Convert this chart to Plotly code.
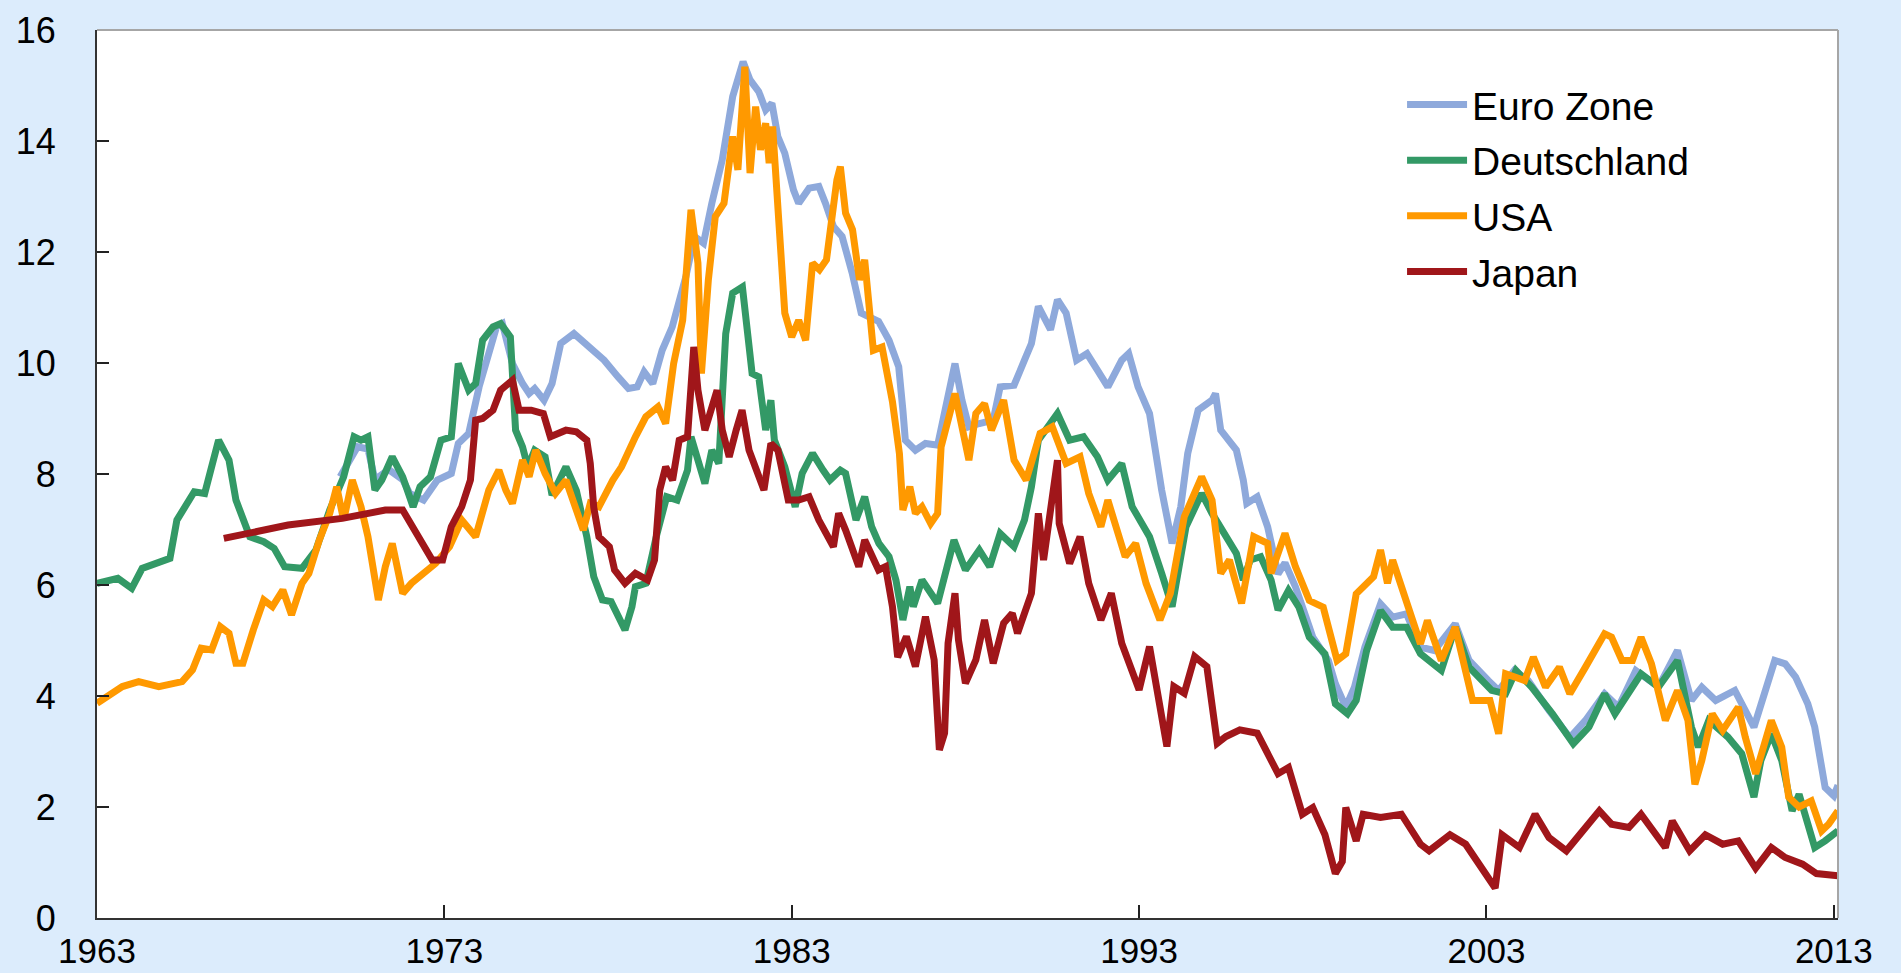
import plotly.graph_objects as go

# ---------------- data (decimal years, yields in %) ----------------
ez_year = [1970.0, 1970.5, 1970.8, 1971.0, 1971.4, 1971.8, 1972.0, 1972.4, 1972.8, 1973.2, 1973.4, 1973.7,
           1974.0, 1974.2, 1974.5, 1974.67, 1974.96, 1975.25, 1975.44, 1975.6, 1975.87, 1976.1, 1976.35,
           1976.73, 1977.16, 1977.6, 1978.0, 1978.3, 1978.55, 1978.75, 1979.0, 1979.27, 1979.56, 1979.8,
           1979.95, 1980.2, 1980.46, 1980.7, 1981.0, 1981.3, 1981.6, 1981.8, 1982.05, 1982.25, 1982.43,
           1982.6, 1982.8, 1983.05, 1983.2, 1983.5, 1983.78, 1983.97, 1984.2, 1984.45, 1984.74, 1985.0,
           1985.2, 1985.5, 1985.8, 1986.08, 1986.2, 1986.27, 1986.56, 1986.85, 1987.2, 1987.4, 1987.7,
           1987.9, 1988.1, 1988.4, 1988.8, 1989.0, 1989.4, 1989.7, 1989.9, 1990.1, 1990.45, 1990.65,
           1990.9, 1991.2, 1991.5, 1991.8, 1992.1, 1992.5, 1992.7, 1992.97, 1993.3, 1993.65, 1993.95,
           1994.2, 1994.4, 1994.7, 1995.1, 1995.2, 1995.35, 1995.8, 1996.0, 1996.1, 1996.4, 1996.7,
           1997.0, 1997.2, 1997.5, 1997.8, 1998.0, 1998.45, 1998.65, 1998.95, 1999.2, 1999.5, 1999.95,
           2000.3, 2000.7, 2001.1, 2001.5, 2002.1, 2002.5, 2003.05, 2003.35, 2003.8, 2004.2, 2004.8,
           2005.4, 2005.85, 2006.4, 2006.8, 2007.3, 2007.95, 2008.5, 2008.9, 2009.2, 2009.6, 2010.15,
           2010.7, 2011.0, 2011.3, 2011.6, 2011.9, 2012.25, 2012.45, 2012.75, 2013.0, 2013.12]
ez_val = [7.95, 8.49, 8.45, 7.9, 8.08, 7.9, 7.65, 7.53, 7.89, 8.01, 8.55, 8.73,
          9.57, 10.05, 10.65, 10.71, 9.99, 9.63, 9.45, 9.54, 9.33, 9.63, 10.35,
          10.53, 10.29, 10.05, 9.75, 9.54, 9.57, 9.84, 9.63, 10.23, 10.65, 11.19,
          11.55, 12.28, 12.16, 12.88, 13.66, 14.8, 15.43, 15.1, 14.89, 14.56, 14.68,
          14.08, 13.78, 13.12, 12.88, 13.15, 13.18, 12.88, 12.46, 12.28, 11.62, 10.9,
          10.84, 10.75, 10.41, 9.93, 9.15, 8.61, 8.43, 8.55, 8.52, 9.15, 9.99,
          9.33, 8.85, 8.91, 8.97, 9.57, 9.6, 10.05, 10.35, 11.02, 10.6, 11.14,
          10.9, 10.05, 10.17, 9.87, 9.57, 10.05, 10.17, 9.57, 9.09, 7.71, 6.75,
          7.41, 8.37, 9.15, 9.33, 9.45, 8.79, 8.43, 7.89, 7.47, 7.59, 7.05,
          6.2, 6.4, 5.97, 5.43, 5.06, 4.64, 4.22, 3.8, 4.16, 4.88, 5.66,
          5.42, 5.48, 4.88, 4.82, 5.3, 4.64, 4.28, 4.1, 4.46, 4.28, 3.74,
          3.25, 3.56, 4.04, 3.8, 4.46, 4.16, 4.82, 3.92, 4.16, 3.92, 4.1,
          3.44, 4.04, 4.64, 4.58, 4.34, 3.86, 3.44, 2.35, 2.2, 2.39]

de_year = [1963.0, 1963.6, 1964.0, 1964.3, 1965.1, 1965.3, 1965.8, 1966.1, 1966.5, 1966.8, 1967.0, 1967.2,
           1967.4, 1967.8, 1968.1, 1968.4, 1968.9, 1969.3, 1969.7, 1970.1, 1970.4, 1970.6, 1970.8, 1971.0,
           1971.2, 1971.5, 1971.8, 1972.1, 1972.3, 1972.6, 1972.9, 1973.2, 1973.4, 1973.7, 1973.9, 1974.1,
           1974.4, 1974.62, 1974.9, 1975.05, 1975.25, 1975.4, 1975.6, 1975.9, 1976.1, 1976.5, 1976.8,
           1977.1, 1977.3, 1977.55, 1977.8, 1978.2, 1978.4, 1978.5, 1978.8, 1979.1, 1979.4, 1979.7,
           1980.0, 1980.1, 1980.5, 1980.7, 1980.9, 1981.1, 1981.3, 1981.58, 1981.7, 1981.86, 1982.05,
           1982.25, 1982.4, 1982.5, 1982.8, 1983.1, 1983.3, 1983.6, 1983.9, 1984.1, 1984.4, 1984.55,
           1984.85, 1985.1, 1985.3, 1985.51, 1985.8, 1986.0, 1986.2, 1986.4, 1986.5, 1986.75, 1987.2,
           1987.67, 1988.0, 1988.4, 1988.7, 1989.0, 1989.4, 1989.7, 1989.9, 1990.1, 1990.65, 1991.0,
           1991.4, 1991.8, 1992.1, 1992.5, 1992.8, 1993.3, 1993.65, 1993.85, 1993.95, 1994.35, 1994.8,
           1995.1, 1995.5, 1995.8, 1996.0, 1996.2, 1996.5, 1996.8, 1997.0, 1997.3, 1997.6, 1997.9,
           1998.35, 1998.65, 1999.0, 1999.25, 1999.55, 1999.95, 2000.3, 2000.7, 2001.1, 2001.7, 2002.1,
           2002.5, 2003.15, 2003.55, 2003.85, 2004.3, 2004.9, 2005.5, 2005.95, 2006.4, 2006.7, 2007.1,
           2007.45, 2007.95, 2008.5, 2008.9, 2009.1, 2009.4, 2009.95, 2010.35, 2010.7, 2010.9, 2011.2,
           2011.5, 2011.8, 2012.0, 2012.45, 2012.75, 2013.12]
de_val = [6.03, 6.12, 5.94, 6.3, 6.48, 7.17, 7.68, 7.65, 8.61, 8.25, 7.53, 7.23,
          6.87, 6.78, 6.66, 6.33, 6.3, 6.63, 7.35, 7.95, 8.67, 8.61, 8.67, 7.71,
          7.89, 8.31, 7.95, 7.41, 7.77, 7.95, 8.61, 8.67, 9.99, 9.51, 9.63, 10.41,
          10.65, 10.71, 10.47, 8.79, 8.49, 8.13, 8.43, 8.31, 7.62, 8.13, 7.7,
          6.87, 6.15, 5.73, 5.7, 5.19, 5.61, 5.97, 6.03, 6.87, 7.59, 7.53,
          8.07, 8.67, 7.83, 8.43, 8.19, 10.53, 11.26, 11.37, 10.59, 9.81, 9.75,
          8.79, 9.33, 8.61, 8.13, 7.41, 8.01, 8.37, 8.07, 7.89, 8.07, 8.01,
          7.17, 7.59, 7.05, 6.75, 6.51, 6.09, 5.37, 5.97, 5.61, 6.09, 5.67,
          6.81, 6.27, 6.63, 6.33, 6.93, 6.69, 7.17, 7.77, 8.61, 9.09, 8.61,
          8.67, 8.31, 7.89, 8.19, 7.41, 6.87, 6.21, 5.85, 5.61, 7.05, 7.65,
          7.29, 6.87, 6.57, 6.09, 6.45, 6.51, 6.09, 5.55, 5.9, 5.6, 5.06,
          4.76, 3.86, 3.68, 3.92, 4.82, 5.54, 5.24, 5.24, 4.76, 4.46, 5.24,
          4.52, 4.1, 4.04, 4.46, 4.16, 3.68, 3.14, 3.44, 4.04, 3.68, 4.04,
          4.4, 4.16, 4.64, 3.44, 3.08, 3.56, 3.26, 2.96, 2.18, 2.84, 3.32,
          2.84, 1.93, 2.23, 1.27, 1.39, 1.57]

us_year = [1963.0, 1963.35, 1963.73, 1964.2, 1964.78, 1965.45, 1965.75, 1966.0, 1966.3, 1966.55, 1966.8, 1967.0,
           1967.2, 1967.5, 1967.8, 1968.05, 1968.35, 1968.6, 1968.9, 1969.1, 1969.4, 1969.7, 1969.9, 1970.1,
           1970.35, 1970.6, 1970.8, 1971.1, 1971.3, 1971.5, 1971.8, 1972.05, 1972.4, 1972.75, 1973.15, 1973.5,
           1973.9, 1974.28, 1974.57, 1974.77, 1974.96, 1975.25, 1975.44, 1975.63, 1975.9, 1976.2, 1976.5,
           1976.8, 1977.0, 1977.2, 1977.45, 1977.85, 1978.1, 1978.5, 1978.8, 1979.15, 1979.37, 1979.6,
           1979.86, 1980.1, 1980.3, 1980.4, 1980.6, 1980.8, 1981.05, 1981.3, 1981.45, 1981.65, 1981.8,
           1981.96, 1982.1, 1982.25, 1982.35, 1982.45, 1982.6, 1982.8, 1983.0, 1983.2, 1983.4, 1983.6,
           1983.8, 1984.0, 1984.3, 1984.4, 1984.55, 1984.75, 1984.95, 1985.1, 1985.35, 1985.6, 1985.9,
           1986.1, 1986.2, 1986.4, 1986.56, 1986.75, 1987.0, 1987.2, 1987.3, 1987.7, 1988.1, 1988.3,
           1988.55, 1988.75, 1989.1, 1989.4, 1989.75, 1990.15, 1990.5, 1990.9, 1991.3, 1991.55, 1991.9,
           1992.1, 1992.6, 1992.9, 1993.2, 1993.6, 1993.9, 1994.3, 1994.8, 1995.1, 1995.35, 1995.6,
           1995.95, 1996.3, 1996.7, 1996.8, 1997.2, 1997.5, 1997.9, 1998.3, 1998.7, 1998.95, 1999.25,
           1999.75, 1999.95, 2000.15, 2000.3, 2000.7, 2001.1, 2001.3, 2001.7, 2002.1, 2002.6, 2003.1,
           2003.35, 2003.55, 2004.1, 2004.35, 2004.7, 2005.1, 2005.4, 2005.85, 2006.4, 2006.6, 2006.9,
           2007.2, 2007.45, 2007.75, 2008.15, 2008.5, 2008.8, 2009.0, 2009.2, 2009.5, 2009.8, 2010.25,
           2010.45, 2010.75, 2011.2, 2011.5, 2011.7, 2012.0, 2012.35, 2012.65, 2012.85, 2013.12]
us_val = [3.87, 4.02, 4.17, 4.26, 4.17, 4.26, 4.47, 4.86, 4.83, 5.25, 5.13, 4.59,
          4.59, 5.19, 5.73, 5.61, 5.91, 5.46, 6.03, 6.21, 6.81, 7.29, 7.77, 7.17,
          7.89, 7.41, 6.87, 5.73, 6.33, 6.75, 5.85, 6.03, 6.21, 6.39, 6.69, 7.17,
          6.87, 7.71, 8.07, 7.71, 7.47, 8.25, 7.95, 8.43, 8.01, 7.65, 7.89,
          7.35, 6.99, 7.47, 7.41, 7.89, 8.13, 8.67, 9.03, 9.21, 8.91, 9.99,
          10.77, 12.76, 11.8, 9.81, 11.5, 12.64, 12.88, 14.08, 13.48, 15.34, 13.42,
          14.62, 13.84, 14.32, 13.6, 14.26, 13.0, 10.9, 10.47, 10.77, 10.41, 11.8,
          11.68, 11.86, 13.3, 13.54, 12.7, 12.4, 11.5, 11.86, 10.23, 10.29, 9.3,
          8.37, 7.35, 7.77, 7.29, 7.41, 7.11, 7.29, 8.49, 9.45, 8.25, 9.09,
          9.27, 8.79, 9.33, 8.25, 7.89, 8.73, 8.85, 8.19, 8.31, 7.65, 7.05,
          7.53, 6.51, 6.75, 6.03, 5.37, 5.85, 7.23, 7.95, 7.53, 6.21, 6.45,
          5.67, 6.87, 6.75, 6.21, 6.93, 6.33, 5.72, 5.6, 4.64, 4.76, 5.84,
          6.15, 6.63, 6.03, 6.45, 5.72, 4.94, 5.36, 4.64, 5.24, 3.92, 3.92,
          3.32, 4.4, 4.28, 4.7, 4.16, 4.52, 4.04, 4.52, 5.12, 5.06, 4.64,
          4.64, 5.06, 4.58, 3.56, 4.1, 3.56, 2.41, 2.84, 3.68, 3.38, 3.8,
          3.26, 2.6, 3.56, 3.08, 2.18, 2.0, 2.11, 1.57, 1.69, 1.93]

jp_year = [1966.65, 1967.3, 1968.5, 1970.06, 1971.3, 1971.8, 1972.4, 1972.65, 1972.95, 1973.2, 1973.5, 1973.75,
           1973.9, 1974.1, 1974.4, 1974.62, 1974.96, 1975.15, 1975.5, 1975.85, 1976.05, 1976.5, 1976.8,
           1977.1, 1977.2, 1977.3, 1977.45, 1977.75, 1977.9, 1978.2, 1978.5, 1978.85, 1979.05, 1979.2,
           1979.37, 1979.57, 1979.76, 1980.0, 1980.18, 1980.3, 1980.5, 1980.7, 1980.85, 1981.0, 1981.2,
           1981.4, 1981.57, 1981.77, 1981.96, 1982.2, 1982.4, 1982.6, 1982.9, 1983.2, 1983.5, 1983.78,
           1984.2, 1984.35, 1984.55, 1984.93, 1985.1, 1985.5, 1985.7, 1985.9, 1986.05, 1986.3, 1986.56,
           1986.85, 1987.1, 1987.25, 1987.4, 1987.5, 1987.7, 1987.8, 1988.0, 1988.3, 1988.55, 1988.8,
           1989.1, 1989.35, 1989.5, 1989.9, 1990.1, 1990.25, 1990.65, 1990.7, 1991.0, 1991.3, 1991.55,
           1991.9, 1992.2, 1992.5, 1993.0, 1993.3, 1993.8, 1994.0, 1994.3, 1994.6, 1994.95, 1995.25,
           1995.5, 1995.9, 1996.4, 1996.7, 1997.0, 1997.3, 1997.7, 1998.0, 1998.35, 1998.65, 1998.85,
           1998.95, 1999.25, 1999.45, 1999.95, 2000.55, 2001.1, 2001.35, 2001.95, 2002.4, 2002.95, 2003.25,
           2003.45, 2003.95, 2004.4, 2004.8, 2005.3, 2005.75, 2006.25, 2006.6, 2007.1, 2007.45, 2007.85,
           2008.15, 2008.35, 2008.85, 2009.3, 2009.8, 2010.25, 2010.75, 2011.2, 2011.6, 2012.1, 2012.5,
           2013.12]
jp_val = [6.84, 6.93, 7.08, 7.2, 7.35, 7.35, 6.69, 6.45, 6.45, 7.05, 7.41, 7.89,
          8.97, 9.0, 9.15, 9.51, 9.69, 9.15, 9.15, 9.09, 8.67, 8.79, 8.76,
          8.61, 8.19, 7.4, 6.87, 6.69, 6.27, 6.03, 6.21, 6.09, 6.45, 7.71,
          8.13, 7.89, 8.61, 8.67, 10.29, 9.51, 8.79, 9.15, 9.51, 8.79, 8.31,
          8.79, 9.15, 8.43, 8.07, 7.71, 8.55, 8.43, 7.53, 7.53, 7.59, 7.17,
          6.69, 7.29, 6.99, 6.33, 6.81, 6.27, 6.33, 5.61, 4.7, 5.07, 4.53,
          5.43, 4.65, 3.03, 3.33, 4.95, 5.85, 5.01, 4.23, 4.65, 5.37, 4.59,
          5.31, 5.49, 5.13, 5.85, 7.29, 6.45, 8.25, 7.11, 6.39, 6.87, 6.03,
          5.37, 5.85, 4.95, 4.11, 4.89, 3.09, 4.17, 4.05, 4.71, 4.53, 3.15,
          3.27, 3.39, 3.33, 2.97, 2.6, 2.71, 1.87, 1.99, 1.5, 0.8, 1.02,
          1.99, 1.39, 1.87, 1.81, 1.87, 1.33, 1.21, 1.5, 1.33, 0.84, 0.54,
          1.5, 1.27, 1.87, 1.45, 1.21, 1.57, 1.93, 1.69, 1.63, 1.87, 1.5,
          1.27, 1.75, 1.21, 1.5, 1.33, 1.39, 0.9, 1.27, 1.09, 0.97, 0.8,
          0.76]

series_names = ["Euro Zone", "Deutschland", "USA", "Japan"]
series_colors = ["#8EA9DB", "#339966", "#FF9900", "#A0161A"]
x_tick_years = [1963, 1973, 1983, 1993, 2003, 2013]
y_ticks = [0, 2, 4, 6, 8, 10, 12, 14, 16]

# ---------------- figure ----------------
FONT = "Liberation Sans, Arial, sans-serif"
BG = "#DCECFC"
fig = go.Figure()
for name, color, xs, ys in zip(series_names, series_colors,
                               [ez_year, de_year, us_year, jp_year],
                               [ez_val, de_val, us_val, jp_val]):
    fig.add_trace(go.Scatter(x=xs, y=ys, mode="lines", name=name, legendgroup=name,
                             line=dict(color=color, width=7)))

fig.update_layout(
    width=1901, height=973,
    paper_bgcolor=BG,
    plot_bgcolor="#FFFFFF",
    margin=dict(l=97, r=63, t=30, b=55, autoexpand=False),
    font=dict(family=FONT, size=36, color="#000000"),
    showlegend=True,
    legend=dict(x=0.7496, y=0.952, xanchor="left", yanchor="top",
                bgcolor="rgba(0,0,0,0)", font=dict(family=FONT, size=39),
                itemwidth=60, tracegroupgap=2),
    xaxis=dict(range=[1963, 2013.12], tickmode="array", tickvals=x_tick_years,
               ticktext=[str(v) for v in x_tick_years], automargin=False,
               ticks="inside", ticklen=13, tickwidth=2, tickcolor="#222222",
               showline=True, linecolor="#333333", linewidth=2,
               showgrid=False, zeroline=False, ticklabelstandoff=1,
               tickfont=dict(family=FONT, size=35)),
    yaxis=dict(range=[0, 16], tickmode="array", tickvals=y_ticks, automargin=False,
               ticks="inside", ticklen=12, tickwidth=2, tickcolor="#222222",
               showline=True, linecolor="#333333", linewidth=2,
               showgrid=False, zeroline=False, ticklabelstandoff=32,
               tickfont=dict(family=FONT, size=36)),
    shapes=[
        dict(type="line", xref="paper", yref="paper", x0=0, x1=1, y0=1, y1=1,
             line=dict(color="#A6A6A6", width=2)),
        dict(type="line", xref="paper", yref="paper", x0=1, x1=1, y0=0, y1=1,
             line=dict(color="#A6A6A6", width=2)),
    ],
)

fig.write_html(
    "out.html",
    config={"displayModeBar": False},
    post_script="document.body.style.margin='0';document.body.style.background='" + BG + "';"
                "document.body.style.overflow='hidden';",
)
